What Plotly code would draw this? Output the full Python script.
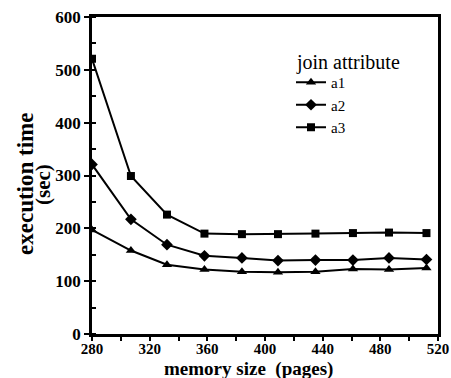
import plotly.graph_objects as go

memory_pages = [280, 307, 332, 358, 384, 409, 435, 461, 486, 512]
a1_times = [197, 158, 131, 122, 118, 117, 118, 123, 122, 125]
a2_times = [321, 217, 169, 148, 144, 139, 140, 140, 144, 141]
a3_times = [521, 299, 226, 190, 189, 189, 190, 191, 192, 191]
series_names = ["a1", "a2", "a3"]
series_symbols = ["triangle-up", "diamond", "square"]
x_ticks = [280, 320, 360, 400, 440, 480, 520]
y_ticks = [0, 100, 200, 300, 400, 500, 600]

FONT = "Liberation Serif, Times New Roman, serif"
W, H = 451, 378
# plot area in page pixels: x 92..438, y 17..334
L, T = 92, 17
R, B = W - 438, H - 334
PW, PH = W - L - R, H - T - B


def px_x(p):
    return (p - L) / PW


def px_y(p):
    return 1 - (p - T) / PH


fig = go.Figure()
for name, ys, sym in zip(series_names, [a1_times, a2_times, a3_times], series_symbols):
    fig.add_trace(go.Scatter(
        x=memory_pages, y=ys, name=name, mode="lines+markers",
        line=dict(color="black", width=2),
        marker=dict(symbol=sym, size=9 if sym != "square" else 8, color="black"),
    ))

fig.update_layout(
    width=W, height=H,
    margin=dict(l=L, r=R, t=T, b=B, autoexpand=False),
    paper_bgcolor="white", plot_bgcolor="white",
    font=dict(family=FONT, color="black"),
    showlegend=True,
    legend=dict(
        font=dict(size=15, family=FONT),
        x=px_x(291), y=px_y(66), xanchor="left", yanchor="top",
        bgcolor="rgba(0,0,0,0)", itemwidth=30, tracegroupgap=0,
    ),
    xaxis=dict(
        range=[280, 520], tickvals=x_ticks, automargin=False,
        ticks="outside", ticklen=4, tickwidth=2, tickcolor="black",
        ticklabeloverflow="allow", ticklabelstandoff=-5,
        minor=dict(dtick=20, tick0=280, ticks="outside", ticklen=4, tickwidth=1.5, tickcolor="black"),
        showline=True, linecolor="black", linewidth=2.5, mirror=True,
        showgrid=False, zeroline=False,
        tickfont=dict(size=15, family=FONT, weight="bold"),
    ),
    yaxis=dict(
        range=[0, 600], tickvals=y_ticks, automargin=False,
        ticks="outside", ticklen=5, tickwidth=2, tickcolor="black",
        ticklabeloverflow="allow",
        minor=dict(dtick=50, tick0=0, ticks="inside", ticklen=4, tickwidth=1.5, tickcolor="black"),
        showline=True, linecolor="black", linewidth=2.5, mirror=True,
        showgrid=False, zeroline=False,
        tickfont=dict(size=17, family=FONT, weight="bold"),
    ),
    annotations=[
        dict(text="join attribute", xref="paper", yref="paper",
             x=px_x(294), y=px_y(63), xanchor="left", yanchor="middle",
             showarrow=False, font=dict(size=20, family=FONT)),
        dict(text="memory size  (pages)", xref="paper", yref="paper",
             x=px_x(248), y=px_y(369), xanchor="center", yanchor="middle",
             showarrow=False, font=dict(size=19, family=FONT, weight="bold")),
        dict(text="execution time", xref="paper", yref="paper", textangle=-90,
             x=px_x(25), y=px_y(184), xanchor="center", yanchor="middle",
             showarrow=False, font=dict(size=23, family=FONT, weight="bold")),
        dict(text="(sec)", xref="paper", yref="paper", textangle=-90,
             x=px_x(43), y=px_y(184), xanchor="center", yanchor="middle",
             showarrow=False, font=dict(size=21, family=FONT, weight="bold")),
    ],
)

fig.write_html(
    "out.html",
    config={"displayModeBar": False},
    post_script="document.documentElement.style.margin='0';"
                "document.body.style.margin='0';"
                "document.body.style.overflow='hidden';",
)
